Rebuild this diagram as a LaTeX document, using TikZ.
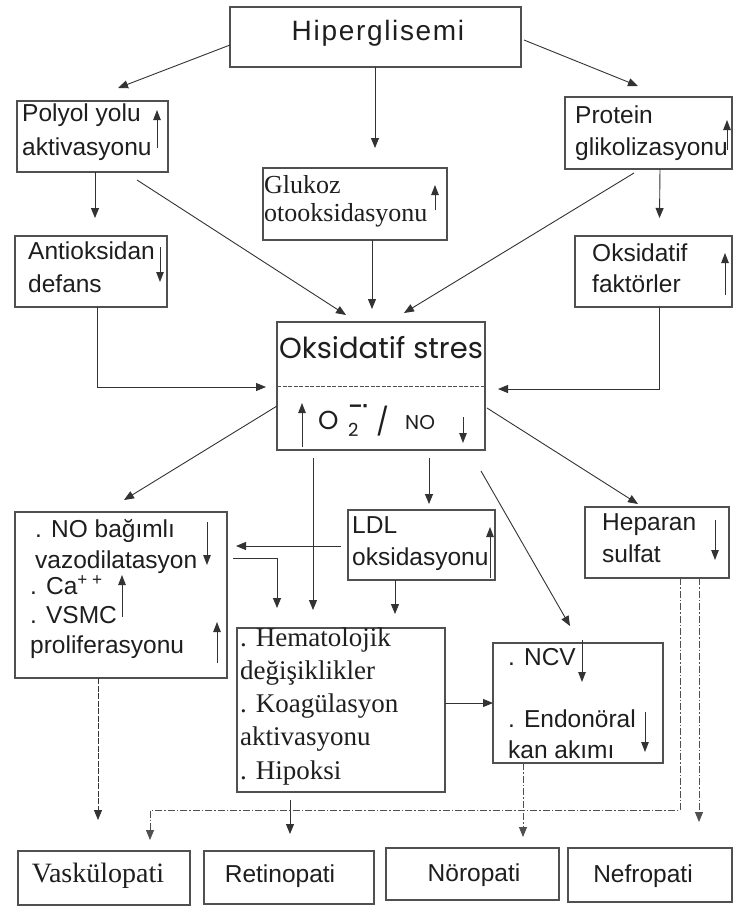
\documentclass[tikz,border=0pt]{standalone}
\usepackage{fontspec}
\setmainfont{Liberation Sans}
\newfontfamily\seriff{Liberation Serif}
\newfontfamily\popf{Poppins}
\newfontfamily\hypf[LetterSpace=6]{Liberation Sans}
\usetikzlibrary{arrows.meta,calc}
\definecolor{ln}{HTML}{333333}
\definecolor{bx}{HTML}{505050}
\definecolor{tx}{HTML}{1E1E1E}
\newcommand\mkbox[5]{\node[box, minimum width={(#4-#2)*1pt}, minimum height={(#5-#3)*1pt}] (#1) at ({(#2+#4)/2},{(#3+#5)/2}) {};}
\begin{document}
\begin{tikzpicture}[x=1pt,y=-1pt,
 box/.style={draw=bx, line width=1.3pt, inner sep=0pt, outer sep=0pt},
 arr/.style={draw=ln, line width=0.9pt, -{Triangle[length=10pt,width=8pt]}},
 ind/.style={draw=ln, line width=1pt, -{Triangle[length=10pt,width=7.5pt]}},
 dd/.style={arr, draw=bx, dash pattern=on 7pt off 2pt on 1.5pt off 2pt},
 sf/.style={text=tx, inner sep=0pt, anchor=mid west, font=\fontsize{24.5}{28}\selectfont},
 sr/.style={text=tx, inner sep=0pt, anchor=mid west, font=\seriff\fontsize{27}{32}\selectfont},
]
\fill[white] (0,0) rectangle (734,906);
\useasboundingbox (0,0) rectangle (734,906);

% boxes
\mkbox{hyp}{230}{7}{521}{67}
\mkbox{poly}{17}{101}{168}{172}
\mkbox{anti}{15}{236}{167}{307}
\mkbox{gluk}{263}{168}{447}{240}
\mkbox{prot}{565}{97}{732}{169}
\mkbox{oksf}{575}{236}{732}{307}
\mkbox{ox}{277}{322}{485}{450}
\mkbox{nobox}{15}{512}{227}{678}
\mkbox{ldl}{348}{510}{495}{580}
\mkbox{hep}{585}{507}{729}{578}
\mkbox{hema}{237}{628}{445}{792}
\mkbox{ncv}{493}{643}{663}{763}
\mkbox{vas}{18}{851}{190}{905}
\mkbox{ret}{204}{851}{374}{904}
\mkbox{nor}{386}{848}{559}{900}
\mkbox{nef}{568}{848}{732}{902}
\draw[bx, line width=0.8pt, dash pattern=on 4pt off 1.5pt] (ox.west) -- (ox.east);

% texts
\node[sf, anchor=mid, font=\hypf\fontsize{28}{30}\selectfont] (thyp) at (378,38) {Hiperglisemi};
\node[sf] (tpoly1) at (22,119) {Polyol yolu};
\node[sf] (tpoly2) at (22,153) {aktivasyonu};
\node[sf] (tanti1) at (28,257) {Antioksidan};
\node[sf] (tanti2) at (28,290) {defans};
\node[sr, font=\seriff\fontsize{26}{30}\selectfont] (tgluk1) at (264,191) {Glukoz};
\node[sr, font=\seriff\fontsize{26}{30}\selectfont] (tgluk2) at (264,219) {otooksidasyonu};
\node[sf] (tprot1) at (575,121) {Protein};
\node[sf] (tprot2) at (575,153) {glikolizasyonu};
\node[sf] (toksf1) at (592,259) {Oksidatif};
\node[sf] (toksf2) at (592,290) {faktörler};
\node[text=tx, inner sep=0pt, anchor=mid, font=\popf\fontsize{29}{32}\selectfont] (tox) at (381,356) {Oksidatif stres};
\node[text=tx, inner sep=0pt, anchor=base west, font=\popf\fontsize{26}{26}\selectfont] (to) at (318,429) {O};
\node[text=tx, inner sep=0pt, anchor=base west, font=\popf\fontsize{18}{18}\selectfont] (ttwo) at (348,436) {2};
\node[text=tx, inner sep=0pt, anchor=base west, font=\bfseries\fontsize{22}{22}\selectfont] (tsup) at (349,413) {−·};
\node[text=tx, inner sep=0pt, anchor=base west, font=\popf\fontsize{27}{27}\selectfont] (tsl) at (376,431) {/};
\node[text=tx, inner sep=0pt, anchor=base west, font=\popf\fontsize{20}{20}\selectfont] (tno) at (405,429) {NO};
\node[sf] (tnob1) at (35,535) {. NO bağımlı};
\node[sf] (tnob2) at (35,566) {vazodilatasyon};
\node[sf] (tnob3) at (30,592) {. Ca\textsuperscript{+ +}};
\node[sf] (tnob4) at (30,621) {. VSMC};
\node[sf] (tnob5) at (30,651) {proliferasyonu};
\node[sf] (tldl1) at (352,531) {LDL};
\node[sf] (tldl2) at (352,563) {oksidasyonu};
\node[sf] (thep1) at (602,528) {Heparan};
\node[sf] (thep2) at (602,560) {sulfat};
\node[sr] (thema1) at (240,644) {. Hematolojik};
\node[sr] (thema2) at (240,677) {değişiklikler};
\node[sr] (thema3) at (240,710) {. Koagülasyon};
\node[sr] (thema4) at (240,743) {aktivasyonu};
\node[sr] (thema5) at (240,777) {. Hipoksi};
\node[sf] (tncv1) at (508,663) {. NCV};
\node[sf] (tncv2) at (508,725) {. Endonöral};
\node[sf] (tncv3) at (508,756) {kan akımı};
\node[sr, anchor=mid, font=\seriff\fontsize{28}{32}\selectfont] (tvas) at (98,880) {Vaskülopati};
\node[sf, anchor=mid] (tret) at (280,880) {Retinopati};
\node[sf, anchor=mid] (tnor) at (474,879) {Nöropati};
\node[sf, anchor=mid] (tnef) at (643,880) {Nefropati};

% indicator arrows
\draw[ind] (157,148) -- (157,110);
\draw[ind] (160,247) -- (160,282);
\draw[ind] (435,210) -- (435,185);
\draw[ind] (727,150) -- (727,120);
\draw[ind] (725,295) -- (725,253);
\draw[ind] (302,447) -- (302,403);
\draw[ind] (463,417) -- (463,443);
\draw[ind] (207,522) -- (207,565);
\draw[ind] (122,617) -- (122,575);
\draw[ind] (217,663) -- (217,622);
\draw[ind] (490,578) -- (490,527);
\draw[ind] (715,520) -- (715,560);
\draw[ind] (582,640) -- (582,682);
\draw[ind] (645,712) -- (645,752);

% connectors
\draw[arr] ($(hyp.west)+(0,8)$) -- ($(poly.north)+(25.5,-13)$);
\draw[arr] ($(hyp.south)+(-0.5,0)$) -- ($(gluk.north)+(20,-20)$);
\draw[arr] ($(hyp.east)+(3,3)$) -- ($(prot.north)+(-10.5,-11)$);
\draw[arr] ($(poly.south)+(2.5,0)$) -- ($(anti.north)+(4,-18)$);
\draw[arr] ($(poly.south)+(44.5,8)$) -- ($(ox.north)+(-35,-7)$);
\draw[arr] ($(gluk.south)+(17,0)$) -- ($(ox.north)+(-9,-13)$);
\draw[arr] ($(prot.south)+(-14.5,4)$) -- ($(ox.north)+(23,-9)$);
\draw[arr] ($(prot.south)+(11.5,0)$) -- ($(oksf.north)+(6,-18)$);
\draw[arr] ($(anti.south)+(6,0)$) |- ($(ox.west)+(-11,1)$);
\draw[arr] ($(oksf.south)+(6,0)$) |- ($(ox.east)+(13,3)$);
\draw[arr] ($(ox.west)+(0,20)$) -- ($(nobox.north)+(3,-12)$);
\draw[arr] ($(ox.south)+(-68,8)$) -- ($(hema.north)+(-28,-18)$);
\draw[arr] ($(ox.south)+(48,8)$) -- ($(ldl.north)+(7.5,-6)$);
\draw[arr] ($(ox.south east)+(-4,21)$) -- ($(ncv.north)+(-8,-17)$);
\draw[arr] ($(ox.east)+(2,22)$) -- ($(hep.north)+(-19,-3)$);
\draw[arr] ($(ldl.west)+(-7,1)$) -- ($(nobox.east)+(9,-49)$);
\draw[arr] ($(nobox.east)+(6,-37)$) -| ($(hema.north)+(-64,-20)$);
\draw[arr] ($(ldl.south)+(-26.5,0)$) -- ($(hema.north)+(54,-14)$);
\draw[arr] ($(hema.east)+(0,-7)$) -- (ncv.west);
\draw[arr, dash pattern=on 6pt off 1.5pt] ($(nobox.south)+(-23,0)$) -- ($(vas.north)+(-6,-31)$);
\draw[arr] ($(hema.south)+(-51,8)$) -- ($(ret.north)+(1,-17)$);
\draw[dd] ($(hep.south)+(23,0)$) |- ($(vas.north)+(46,-41)$) -- ($(vas.north)+(46,-11)$);
\draw[dd] ($(hep.south)+(42,0)$) -- ($(nef.north)+(49,-26)$);
\draw[dd] ($(ncv.south)+(-55,0)$) -- ($(nor.north)+(50.5,-11)$);
\end{tikzpicture}
\end{document}
